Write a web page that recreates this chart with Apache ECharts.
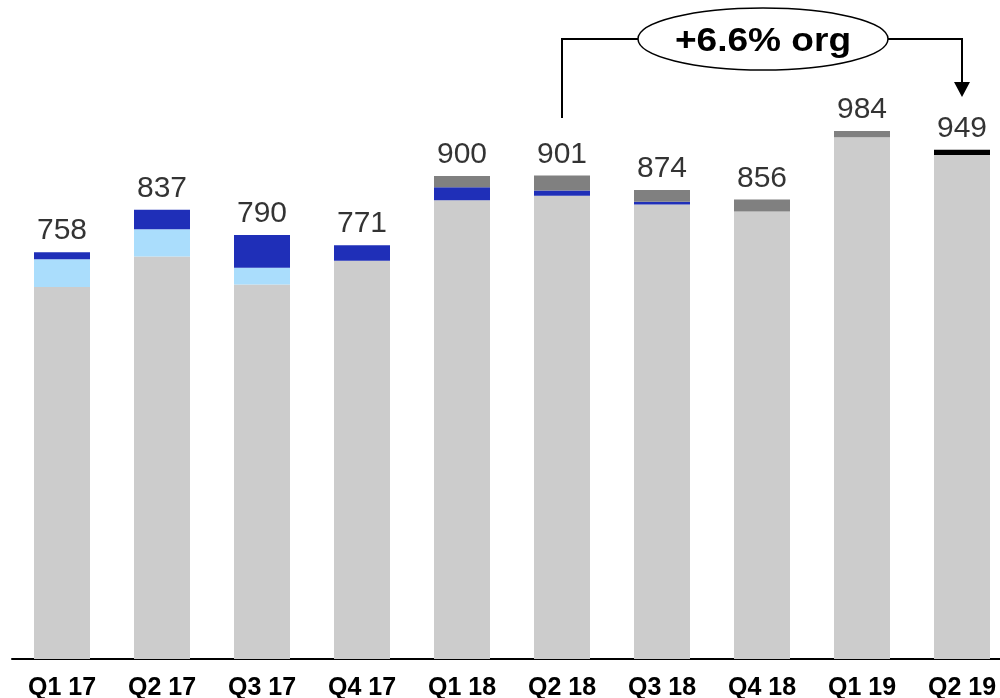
<!DOCTYPE html>
<html>
<head>
<meta charset="utf-8">
<script src="https://cdn.jsdelivr.net/npm/echarts@6/dist/echarts.min.js"></script>
<style>
  html, body { margin: 0; padding: 0; background: #fff; }
  #chart { width: 1000px; height: 698px; }
</style>
</head>
<body>
<div id="chart"></div>
<script>
// quarters
var categories = ['Q1 17', 'Q2 17', 'Q3 17', 'Q4 17', 'Q1 18', 'Q2 18', 'Q3 18', 'Q4 18', 'Q1 19', 'Q2 19'];
// stacked segments, bottom to top
var baseVals = [693, 750, 698, 742, 855, 863, 847, 834, 972, 939];
var lightBlueVals = [52, 51, 31, 0, 0, 0, 0, 0, 0, 0];
var darkBlueVals = [13, 36, 61, 29, 24, 10, 5, 0, 0, 0];
var darkGrayVals = [0, 0, 0, 0, 21, 28, 22, 22, 12, 0];
var blackVals = [0, 0, 0, 0, 0, 0, 0, 0, 0, 10];
var totals = [758, 837, 790, 771, 900, 901, 874, 856, 984, 949];
var growthText = '+6.6% org';

var chartDom = document.getElementById('chart');
var myChart = echarts.init(chartDom);

function seg(name, data, color) {
  return {
    name: name,
    type: 'bar',
    stack: 'total',
    barWidth: 56,
    silent: true,
    itemStyle: { color: color },
    data: data
  };
}

var option = {
  animation: false,
  grid: { left: 12, top: 15, right: -12, bottom: 39, outerBoundsMode: 'none', containLabel: false },
  xAxis: {
    type: 'category',
    data: categories,
    axisLine: { lineStyle: { color: '#000', width: 2 } },
    axisTick: { show: false },
    axisLabel: {
      color: '#000',
      fontFamily: 'Liberation Sans, Arial, sans-serif',
      fontWeight: 'bold',
      fontSize: 25,
      margin: 17
    }
  },
  yAxis: {
    type: 'value',
    min: 0,
    max: 1200,
    show: false
  },
  series: [
    seg('base', baseVals, '#cccccc'),
    seg('light blue', lightBlueVals, '#aaddfc'),
    seg('dark blue', darkBlueVals, '#1f2fb8'),
    seg('dark gray', darkGrayVals, '#808080'),
    seg('black', blackVals, '#000000'),
    {
      name: 'total',
      type: 'scatter',
      symbolSize: 0,
      silent: true,
      label: {
        show: true,
        position: 'top',
        distance: 6,
        color: '#000',
        fontFamily: 'Liberation Sans, Arial, sans-serif',
        fontSize: 30
      },
      data: totals
    }
  ]
};

myChart.setOption(option);

// bracket annotation from Q2 18 to Q2 19
var xa = myChart.convertToPixel({ xAxisIndex: 0 }, 'Q2 18');
var xb = myChart.convertToPixel({ xAxisIndex: 0 }, 'Q2 19');
var yLine = 39;
var cx = 763, rx = 125, ry = 31;
myChart.setOption({
  graphic: [
    {
      type: 'polyline',
      shape: { points: [[xa, 118], [xa, yLine], [cx - rx, yLine]] },
      style: { stroke: '#000', lineWidth: 2, fill: null }
    },
    {
      type: 'polyline',
      shape: { points: [[cx + rx, yLine], [xb, yLine], [xb, 84]] },
      style: { stroke: '#000', lineWidth: 2, fill: null }
    },
    {
      type: 'polygon',
      shape: { points: [[xb - 8, 82], [xb + 8, 82], [xb, 97]] },
      style: { fill: '#000' }
    },
    {
      type: 'ellipse',
      shape: { cx: cx, cy: yLine, rx: rx, ry: ry },
      style: { fill: '#fff', stroke: '#000', lineWidth: 1.5 }
    },
    {
      type: 'text',
      x: cx,
      y: yLine + 3,
      scaleX: 1.09,
      style: {
        text: growthText,
        fill: '#000',
        font: 'bold 34px "Liberation Sans", Arial, sans-serif',
        align: 'center',
        verticalAlign: 'middle'
      }
    }
  ]
});
</script>
</body>
</html>
